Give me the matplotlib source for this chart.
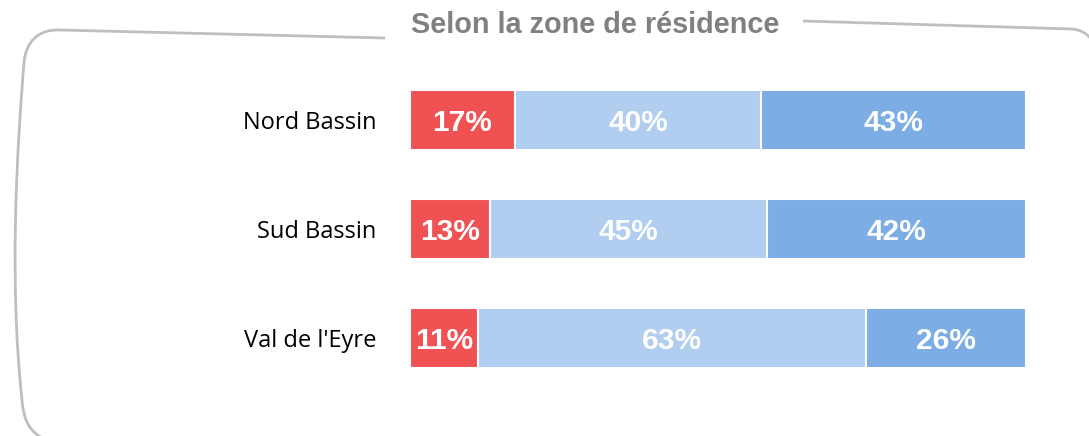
import numpy as np
import matplotlib
matplotlib.use('Agg')
import matplotlib.pyplot as plt
from matplotlib.path import Path
from matplotlib.patches import PathPatch

# data
zones = ["Nord Bassin", "Sud Bassin", "Val de l'Eyre"]
part_rouge = [17, 13, 11]
part_clair = [40, 45, 63]
part_fonce = [43, 42, 26]
titre = "Selon la zone de résidence"

couleurs = ["#F05153", "#B1CDF0", "#7CADE5"]

W, H = 1089, 436
fig = plt.figure(figsize=(W / 100, H / 100), dpi=100)

# axes placed so that 0-100 spans x=410..1026 px
ax = fig.add_axes([410 / W, 1 - 392.5 / H, 616 / W, 327 / H])
ax.set_xlim(0, 100)
ax.set_ylim(2.5, -0.5)

y = np.arange(len(zones))
gauche = np.zeros(len(zones))
for serie, c in zip([part_rouge, part_clair, part_fonce], couleurs):
    serie = np.array(serie, dtype=float)
    ax.barh(y, serie, left=gauche, height=0.55, color=c,
            edgecolor="white", linewidth=1.5)
    for yi, g, v in zip(y, gauche, serie):
        ax.text(g + v / 2, yi + 0.03, f"{int(v)}%", ha="center", va="center",
                color="white", fontsize=21.5, fontweight="bold",
                family="Liberation Sans")
    gauche += serie

ax.set_yticks(y)
ax.set_yticklabels(zones, fontsize=17, family="Open Sans")
ax.tick_params(axis="y", length=0, pad=24)
ax.set_xticks([])
for s in ax.spines.values():
    s.set_visible(False)

# titre
fig.text(595 / W, 1 - 25 / H, titre, ha="center", va="center",
         fontsize=20.8, fontweight="bold", color="#808080",
         family="Liberation Sans")

# cadre dessiné à la main
def px(x, yy):
    return (x / W, 1 - yy / H)

gauche_pts = [(385, 38), (60, 30), (38, 29), (26, 42), (24, 62),
              (17, 150), (9, 280), (22, 400),
              (24, 425), (32, 432), (45, 440)]
codes_g = [Path.MOVETO, Path.LINETO] + [Path.CURVE4] * 9
droite_pts = [(803, 21), (1072, 29), (1082, 30), (1087, 34), (1092, 40)]
codes_d = [Path.MOVETO, Path.LINETO] + [Path.CURVE4] * 3

for pts, codes in [(gauche_pts, codes_g), (droite_pts, codes_d)]:
    chemin = Path([px(*p) for p in pts], codes)
    fig.patches.append(PathPatch(chemin, transform=fig.transFigure,
                                 fill=False, edgecolor="#BFBFBF", lw=2))

fig.savefig("out.png", dpi=100)
